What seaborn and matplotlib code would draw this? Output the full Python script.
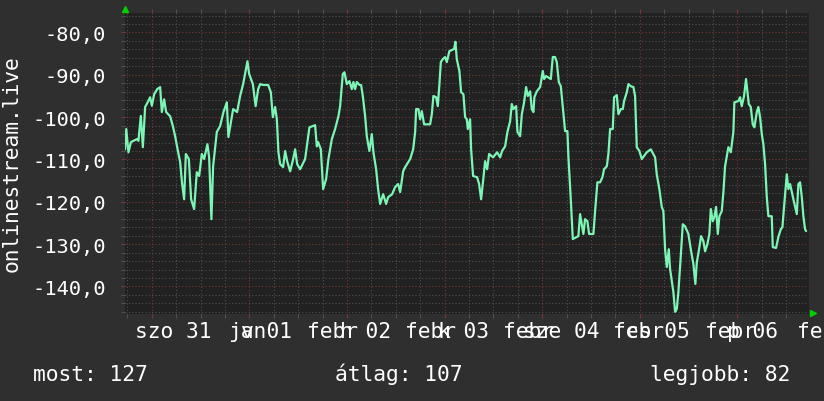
import matplotlib
matplotlib.use("Agg")
import matplotlib.pyplot as plt
import seaborn as sns
import pandas as pd
from matplotlib.ticker import MultipleLocator

# hours since 31 Jan 00:00 and the (negated) rank
hours = [
    -6.57, -6.29, -5.75, -5.16, -4.52, -3.69, -3.30, -2.71, -2.21, -1.65,
    -1.03, -0.42, 0.00, 0.57, 1.30, 2.04, 2.46, 3.02, 3.52, 4.50,
    5.16, 5.73, 6.47, 6.96, 7.45, 7.94, 8.36, 9.10, 9.66, 10.40,
    11.06, 11.63, 12.29, 12.86, 13.67, 14.09, 14.65, 15.07, 15.98, 16.79,
    17.61, 18.44, 18.83, 19.99, 20.97, 21.71, 22.45, 23.51, 23.93, 24.84,
    25.52, 26.14, 26.63, 27.37, 28.60, 29.26, 29.75, 30.32, 30.74, 31.13,
    31.55, 32.28, 32.78, 33.27, 34.01, 34.75, 35.24, 35.73, 36.46, 37.69,
    38.75, 40.15, 40.57, 40.89, 41.56, 42.12, 42.86, 43.42, 44.26, 45.07,
    45.88, 46.30, 46.96, 47.36, 47.95, 48.59, 49.18, 49.57, 49.99, 50.41,
    51.05, 51.46, 51.88, 52.45, 52.86, 53.50, 54.09, 54.49, 55.15, 55.64,
    56.14, 56.88, 57.61, 58.11, 59.09, 59.83, 60.57, 61.06, 61.80, 62.29,
    63.52, 64.26, 64.75, 64.99, 65.55, 65.97, 66.39, 66.95, 68.43, 68.85,
    69.24, 69.91, 70.32, 70.72, 71.06, 71.55, 72.12, 72.53, 73.17, 74.33,
    74.65, 74.99, 75.63, 76.05, 76.62, 77.04, 77.45, 77.70, 78.26, 78.51,
    79.00, 79.99, 80.48, 80.97, 81.46, 81.95, 82.45, 82.94, 83.92, 84.91,
    85.64, 86.13, 86.87, 87.44, 88.10, 88.52, 88.91, 89.58, 89.90, 90.56,
    90.98, 91.54, 92.03, 92.45, 93.02, 93.43, 93.83, 94.07, 94.66, 95.48,
    96.14, 96.46, 96.95, 98.11, 98.60, 99.16, 99.58, 100.07, 100.57, 101.21,
    101.62, 102.19, 102.43, 103.02, 103.52, 104.50, 104.89, 105.31, 105.73, 106.12,
    106.54, 107.11, 107.52, 108.58, 109.00, 109.56, 110.23, 110.80, 111.21, 111.88,
    112.27, 112.69, 113.35, 113.67, 114.34, 114.73, 115.32, 115.81, 116.13, 116.80,
    117.19, 117.78, 118.42, 118.83, 119.25, 119.89, 120.48, 121.71, 122.69, 123.75,
    124.16, 124.80, 125.39, 125.79, 126.21, 126.63, 127.12, 127.44, 128.25, 128.67,
    129.09, 129.48, 130.07, 130.56, 131.13, 131.94, 132.53, 133.17, 133.66, 134.01,
    134.57, 135.06, 135.63, 136.05, 136.61, 137.10, 137.45, 137.94, 138.33, 138.75,
    139.17, 139.56, 140.15, 140.55, 140.96, 141.78, 142.37, 143.00, 143.25, 144.23,
    144.65, 145.06, 145.63, 146.12, 146.44, 146.79, 147.28, 147.77, 148.17, 148.76,
    149.15, 149.57, 149.99, 150.38, 150.80, 151.22, 151.61, 152.44, 152.69, 153.50,
    154.07, 154.66, 155.06, 155.48, 156.14, 156.53, 156.95, 157.37, 157.76, 158.18,
    158.60, 158.99, 159.41, 159.83, 160.22, 160.64, 160.89,
]
rank = [
    -107.6, -102.8, -108.3, -105.9, -105.6, -105.2, -105.6, -99.7, -107.1, -97.6,
    -96.5, -95.3, -97.3, -94.6, -93.4, -92.9, -98.8, -95.8, -98.8, -99.8,
    -102.1, -104.5, -108.3, -110.6, -115.8, -119.4, -108.7, -109.9, -119.4, -121.7,
    -113.0, -113.9, -108.7, -109.9, -106.4, -109.5, -124.1, -111.6, -103.5, -102.1,
    -98.8, -96.5, -104.7, -98.1, -98.8, -95.0, -92.2, -86.8, -89.8, -92.2,
    -97.4, -93.4, -92.2, -92.4, -92.4, -94.1, -100.0, -97.6, -100.5, -108.3,
    -111.1, -111.8, -108.0, -110.4, -112.8, -109.9, -107.6, -111.1, -112.3, -109.9,
    -102.4, -101.9, -106.9, -105.9, -107.6, -117.0, -114.6, -109.9, -105.2, -102.8,
    -99.8, -97.4, -89.8, -89.4, -92.2, -91.5, -93.4, -91.7, -93.4, -91.7,
    -92.4, -92.4, -95.0, -99.8, -104.5, -108.0, -104.0, -108.3, -112.3, -117.0,
    -120.5, -118.2, -120.5, -118.9, -118.2, -116.5, -115.8, -117.7, -112.8, -111.8,
    -109.9, -107.6, -103.5, -98.1, -98.1, -100.5, -98.6, -101.7, -101.7, -99.3,
    -95.0, -95.3, -97.4, -92.2, -87.0, -86.3, -85.8, -87.0, -84.4, -83.9,
    -82.2, -86.3, -89.1, -94.1, -94.6, -100.0, -100.5, -102.8, -100.5, -107.6,
    -113.9, -114.2, -115.8, -119.4, -115.1, -110.4, -112.3, -108.7, -109.5, -108.3,
    -109.5, -108.0, -106.9, -103.5, -101.0, -96.9, -98.1, -97.4, -103.5, -104.5,
    -99.3, -96.5, -92.9, -95.0, -93.9, -98.1, -98.8, -95.3, -93.9, -92.9,
    -89.1, -91.0, -90.3, -91.0, -85.8, -85.8, -87.0, -91.7, -92.7, -99.3,
    -103.3, -103.3, -109.2, -119.4, -128.8, -128.3, -128.1, -122.9, -125.3, -127.6,
    -124.1, -124.6, -127.6, -127.6, -122.2, -115.4, -115.4, -114.2, -112.3, -111.6,
    -108.7, -102.8, -102.8, -95.3, -94.8, -99.3, -98.1, -98.1, -96.2, -94.1,
    -92.2, -92.7, -92.9, -95.0, -107.1, -108.0, -109.9, -108.3, -107.6, -109.5,
    -113.5, -117.0, -121.2, -122.2, -131.2, -135.4, -131.2, -135.9, -141.3, -146.0,
    -145.3, -141.3, -132.8, -125.3, -125.8, -127.6, -131.2, -134.7, -139.4, -134.3,
    -131.2, -128.1, -129.3, -131.7, -130.0, -127.6, -121.7, -124.6, -123.6, -121.2,
    -127.6, -123.4, -122.2, -117.7, -111.6, -107.1, -108.3, -103.5, -96.5, -96.2,
    -95.3, -97.4, -95.0, -91.0, -93.9, -96.9, -97.6, -101.7, -102.4, -98.8,
    -97.6, -100.0, -104.0, -106.4, -111.1, -118.9, -123.4, -123.4, -130.7, -130.9,
    -128.3, -126.5, -126.0, -121.0, -113.5, -117.0, -115.8, -117.7, -119.4, -121.2,
    -122.9, -115.8, -115.4, -118.9, -123.4, -126.5, -126.9,
]

y_ticks = [-80, -90, -100, -110, -120, -130, -140]
y_labels = ["-80,0", "-90,0", "-100,0", "-110,0", "-120,0", "-130,0", "-140,0"]
day_labels = ["szo 31", "v 01", "h 02", "k 03", "sze 04", "cs 05", "p 06"]
month_labels = ["jan", "febr", "febr", "febr", "febr", "febr", "febr"]
stat_labels = ["most: 127", "átlag: 107", "legjobb: 82"]
ylabel = "onlinestream.live"

df = pd.DataFrame({"hour": hours, "rank": rank})

sns.set_theme(style="dark")
plt.rcParams["font.family"] = ["DejaVu Sans Mono", "DejaVu Sans"]

BG = "#2f2f2f"
CANVAS = "#212121"
MINOR = "#505050"
MAJOR = "#7a3535"
TXT = "#ffffff"
W, H = 824, 402

fig = plt.figure(figsize=(W / 100, H / 100), dpi=100, facecolor=BG)
ax = fig.add_axes([125 / W, 1 - 315 / H, 684 / W, 301 / H])
ax.set_facecolor(CANVAS)

ax.xaxis.set_major_locator(MultipleLocator(24))
ax.xaxis.set_minor_locator(MultipleLocator(6))
ax.yaxis.set_major_locator(MultipleLocator(10))
ax.yaxis.set_minor_locator(MultipleLocator(2))
ax.grid(which="minor", color=MINOR, linestyle=(0, (1, 2)), lw=0.8)
ax.grid(which="major", color=MAJOR, linestyle=(0, (1, 2)), lw=0.8)
ax.set_axisbelow(True)

sns.lineplot(data=df, x="hour", y="rank", ax=ax, color="#7df5b4", lw=1.6,
             sort=False, estimator=None)

ax.set_xlim(-6.6, 161.6)
ax.set_ylim(-146.5, -75.4)
for s in ax.spines.values():
    s.set_visible(False)

ax.set_yticks(y_ticks)
ax.set_yticklabels(y_labels)
ax.tick_params(axis="y", which="major", length=3, width=0.8, color=MAJOR,
               labelcolor=TXT, labelsize=14.7, pad=10.6, direction="out", left=True)
ax.tick_params(axis="y", which="minor", length=3, width=0.8, color=MINOR,
               direction="out", left=True)
ax.tick_params(axis="x", which="major", length=3, width=0.8, color=MAJOR,
               direction="out", bottom=True, top=True, labelbottom=False)
ax.tick_params(axis="x", which="minor", length=3, width=0.8, color=MINOR,
               direction="out", bottom=True, top=True)
ax.set_xlabel("")
ax.set_ylabel("")

# arrows at the axis ends
ax.plot([0], [1.012], marker="^", ms=5, color="#00d000", transform=ax.transAxes, clip_on=False)
ax.plot([1.006], [0.002], marker=">", ms=5, color="#00d000", transform=ax.transAxes, clip_on=False)

# x labels: month and weekday strings overlap as in the original
fs = 15.3
base_x = 1 - 338 / H
month_px = [228.3, 306.7, 405, 503.3, 613.3, 705]
day_px = [135, 240.6, 340, 438, 523, 625.5, 726.7]
for t, px in zip(month_labels, month_px):
    fig.text(px / W, base_x, t, color=TXT, fontsize=fs, ha="left", va="baseline")
for t, px in zip(day_labels, day_px):
    fig.text(px / W, base_x, t, color=TXT, fontsize=fs, ha="left", va="baseline")
fig.text(796.7 / W, base_x, "febr", color=TXT, fontsize=fs, ha="left", va="baseline")

fig.text(12 / W, 1 - 164 / H, ylabel, color=TXT, fontsize=fs, rotation=90,
         ha="center", va="center")

for t, px in zip(stat_labels, [33, 335, 650]):
    fig.text(px / W, 1 - 381.5 / H, t, color=TXT, fontsize=fs, ha="left", va="baseline")

fig.savefig("out.png", dpi=100, facecolor=BG)
